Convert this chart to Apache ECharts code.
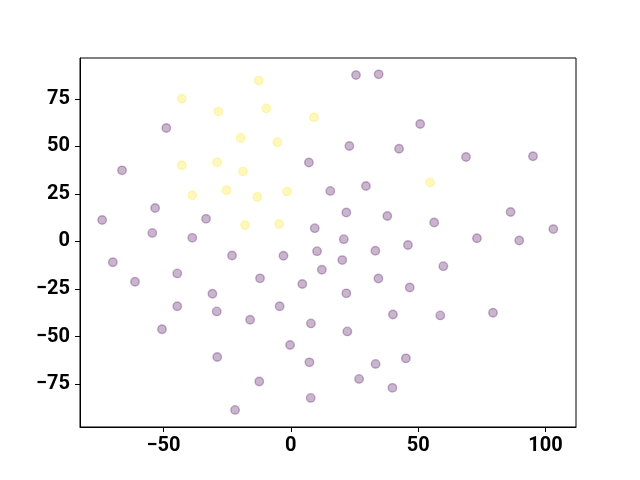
<!DOCTYPE html>
<html>
<head>
<meta charset="utf-8">
<script src="https://cdn.jsdelivr.net/npm/echarts@6/dist/echarts.min.js"></script>
<style>html,body{margin:0;padding:0;background:#fff}#c{width:640px;height:480px}</style>
</head>
<body>
<div id="c"></div>
<script>
const purpleX = [25.6,34.5,50.8,-48.9,23.0,42.5,68.8,95.1,-66.3,7.1,15.5,29.5,-53.3,-74.1,-33.3,21.8,37.9,56.3,86.3,103.1,9.4,-54.4,-38.7,20.8,33.2,46.0,73.1,89.7,-69.9,-23.1,-2.9,10.3,20.2,12.2,59.9,-61.2,-44.6,-12.1,4.5,34.4,46.7,-30.8,21.8,-44.6,-29.1,-4.4,-16.0,7.9,40.1,58.7,79.4,-50.6,22.2,-0.3,-28.9,7.3,45.2,33.3,-12.4,26.8,39.9,7.8,-21.9];
const purpleY = [87.5,87.9,61.8,59.7,50.2,48.8,44.4,44.8,37.4,41.5,26.6,29.2,17.6,11.3,11.9,15.2,13.4,10.0,15.5,6.5,7.0,4.5,1.9,1.2,-4.9,-1.9,1.7,0.5,-10.9,-7.4,-7.5,-5.1,-9.8,-14.9,-13.0,-21.2,-16.8,-19.4,-22.4,-19.5,-24.2,-27.5,-27.3,-34.1,-36.8,-34.1,-41.2,-43.1,-38.4,-38.9,-37.5,-46.2,-47.3,-54.5,-60.8,-63.6,-61.5,-64.4,-73.7,-72.3,-77.0,-82.3,-88.6];
const yellowX = [-12.6,-42.8,-28.5,-9.6,9.1,-19.7,-5.3,-42.8,-29.0,-18.8,-38.7,-25.3,-13.2,-1.5,-18.0,-4.6,54.7];
const yellowY = [84.6,75.1,68.3,69.9,65.3,54.4,52.2,40.1,41.6,36.8,24.3,26.9,23.4,26.3,8.6,9.2,31.0];
const xTicks = [-50,0,50,100];
const yTicks = [-75,-50,-25,0,25,50,75];

const zip = (a,b) => a.map((v,i)=>[v,b[i]]);
const fmt = v => String(v).replace('-', '\u2212');
const labelStyle = {fontFamily:'Roboto', fontWeight:'bold', fontSize:20, color:'#000'};

const chart = echarts.init(document.getElementById('c'), null, {renderer:'canvas'});
chart.setOption({
  animation:false,
  backgroundColor:'#fff',
  grid:{left:80, right:64, top:58, bottom:53, show:true, borderColor:'#000', borderWidth:1, backgroundColor:'transparent'},
  xAxis:{type:'value', min:-82.8, max:112.0,
    axisLine:{show:true, onZero:false, lineStyle:{color:'#000', width:1}},
    axisTick:{show:true, length:5, lineStyle:{color:'#000', width:1}, customValues:xTicks},
    axisLabel:Object.assign({margin:9, formatter:fmt, customValues:xTicks}, labelStyle),
    splitLine:{show:false}},
  yAxis:{type:'value', min:-97.6, max:96.5,
    axisLine:{show:true, onZero:false, lineStyle:{color:'#000', width:1}},
    axisTick:{show:true, length:5, lineStyle:{color:'#000', width:1}, customValues:yTicks},
    axisLabel:Object.assign({margin:10, formatter:fmt, customValues:yTicks}, labelStyle),
    splitLine:{show:false}},
  series:[
    {type:'scatter', data:zip(purpleX,purpleY), symbolSize:8.5,
     itemStyle:{color:'rgba(68,1,84,0.36)', borderColor:'rgba(68,1,84,0.36)', borderWidth:1.4}},
    {type:'scatter', data:zip(yellowX,yellowY), symbolSize:8.5,
     itemStyle:{color:'rgba(253,231,37,0.36)', borderColor:'rgba(253,231,37,0.36)', borderWidth:1.4}}
  ]
});
</script>
</body>
</html>
